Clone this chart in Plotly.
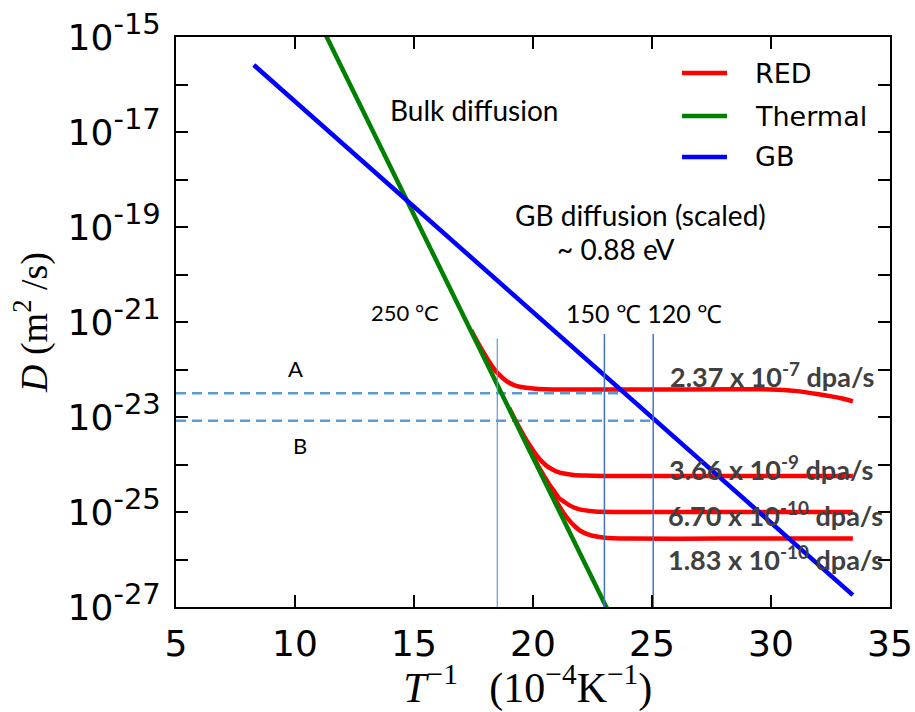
import plotly.graph_objects as go

# ---------------- data (x in 1e-4 K^-1, y as log10 D in m^2/s) ----------------
thermal_x = [11.0, 23.5]
thermal_logD = [-14.66, -27.43]

gb_x = [8.27, 33.44]
gb_logD = [-15.59, -26.75]

red1_x = [17.4, 17.6, 17.8, 18.0, 18.2, 18.4, 18.6, 18.8, 19.0, 19.2, 19.5, 20.0,
          20.5, 21.5, 25.0, 30.0, 31.0, 32.0, 33.0, 33.44]
red1_logD = [-21.17, -21.36, -21.54, -21.71, -21.87, -22.01, -22.12, -22.21, -22.28,
             -22.33, -22.37, -22.40, -22.415, -22.42, -22.42, -22.42, -22.45, -22.52,
             -22.61, -22.67]

red2_x = [19.0, 19.25, 19.5, 19.75, 20.0, 20.2, 20.4, 20.6, 20.8, 21.0, 21.3, 21.7,
          22.2, 23.0, 28.0, 33.44]
red2_logD = [-22.81, -23.06, -23.29, -23.51, -23.70, -23.84, -23.95, -24.04, -24.10,
             -24.15, -24.19, -24.22, -24.234, -24.24, -24.24, -24.24]

red3_x = [19.5, 19.75, 20.0, 20.25, 20.5, 20.7, 20.9, 21.1, 21.3, 21.5, 21.75, 22.0,
          22.6, 23.5, 28.0, 33.44]
red3_logD = [-23.33, -23.58, -23.82, -24.06, -24.27, -24.43, -24.57, -24.71, -24.78,
             -24.85, -24.91, -24.95, -24.99, -25.0, -25.0, -25.0]

red4_x = [19.75, 20.0, 20.25, 20.5, 20.75, 21.0, 21.2, 21.4, 21.6, 21.8, 22.0, 22.25,
          22.5, 23.0, 24.0, 28.0, 33.44]
red4_logD = [-23.59, -23.84, -24.09, -24.34, -24.57, -24.79, -24.955, -25.10, -25.22,
             -25.32, -25.40, -25.46, -25.50, -25.54, -25.56, -25.56, -25.56]

dose_labels = ["2.37 x 10<sup>-7</sup> dpa/s", "3.66 x 10<sup>-9</sup> dpa/s",
               "6.70 x 10<sup>-10</sup> dpa/s", "1.83 x 10<sup>-10</sup> dpa/s"]
dose_label_x = [34.4, 34.35, 34.8, 34.8]
dose_label_logD = [-22.12, -24.08, -25.05, -25.97]

# reference lines
lineA_x = [5.0, 23.85]
lineA_logD = [-22.50, -22.50]
lineB_x = [5.0, 25.05]
lineB_logD = [-23.08, -23.08]
temp_line_x = [18.5, 23.0, 25.05]          # 250 C, 150 C, 120 C markers
temp_line_top = [-21.35, -21.25, -21.25]

y_tick_exp = list(range(-27, -14))
x_tick_vals = [5, 10, 15, 20, 25, 30, 35]

legend_names = ["RED", "Thermal", "GB"]
legend_colors = ["#ff0000", "#008000", "#0000ff"]

# ---------------- figure ----------------
fig = go.Figure()
LW = 4.5

for xs, ls in [(lineA_x, lineA_logD), (lineB_x, lineB_logD)]:
    fig.add_trace(go.Scatter(x=xs, y=[10 ** v for v in ls], mode="lines",
                             line=dict(color="#5b9bd5", width=2.5, dash="10px,6px"),
                             showlegend=False, hoverinfo="skip"))

for xs, ls in [(red1_x, red1_logD), (red2_x, red2_logD), (red3_x, red3_logD), (red4_x, red4_logD)]:
    fig.add_trace(go.Scatter(x=xs, y=[10 ** v for v in ls], mode="lines",
                             line=dict(color="#ff0000", width=LW, shape="spline", smoothing=0.6),
                             showlegend=False, hoverinfo="skip"))

fig.add_trace(go.Scatter(x=thermal_x, y=[10 ** v for v in thermal_logD], mode="lines",
                         line=dict(color="#008000", width=LW), showlegend=False))
fig.add_trace(go.Scatter(x=gb_x, y=[10 ** v for v in gb_logD], mode="lines",
                         line=dict(color="#0000ff", width=LW), showlegend=False))

temp_colors = ["#5b9bd5", "#4472c4", "#4472c4"]
temp_widths = [1.2, 1.5, 1.5]
for tx, top, c, w in zip(temp_line_x, temp_line_top, temp_colors, temp_widths):
    fig.add_trace(go.Scatter(x=[tx, tx], y=[1e-27, 10 ** top], mode="lines",
                             line=dict(color=c, width=w), showlegend=False, hoverinfo="skip"))

# pointer lines (log10 coordinates on log axis)
pointers = [((16.43, -16.96), (14.06, -17.73)),
            ((20.60, -19.12), (18.12, -19.94)),
            ((16.15, -21.04), (18.55, -21.40))]
for (x0, y0), (x1, y1) in pointers:
    fig.add_shape(type="line", xref="x", yref="y", x0=x0, y0=y0, x1=x1, y1=y1,
                  line=dict(color="#5b9bd5", width=1))

LBL = "Lato"
ann = []
for t, x, y in zip(dose_labels, dose_label_x, dose_label_logD):
    ann.append(dict(text="<b>" + t + "</b>", x=x, y=y, xanchor="right", yanchor="middle",
                    font=dict(family=LBL, size=27, color="#404040")))
ann += [
    dict(text="150 ℃ 120 ℃", x=24.68, y=-20.81, xanchor="center", yanchor="middle",
         font=dict(family=LBL, size=25, color="black")),
    dict(text="250 °C", x=16.13, y=-20.81, xanchor="right", yanchor="middle",
         font=dict(family=LBL, size=22, color="black")),
    dict(text="A", x=10.04, y=-21.97, xanchor="center", yanchor="middle",
         font=dict(family=LBL, size=22, color="black")),
    dict(text="B", x=10.21, y=-23.61, xanchor="center", yanchor="middle",
         font=dict(family=LBL, size=22, color="black")),
    dict(text="Bulk diffusion", x=13.92, y=-16.54, xanchor="left", yanchor="middle",
         font=dict(family=LBL, size=28, color="black")),
    dict(text="GB diffusion (scaled)", x=19.16, y=-18.75, xanchor="left", yanchor="middle",
         font=dict(family=LBL, size=28, color="black")),
    dict(text="~ 0.88 eV", x=23.5, y=-19.46, xanchor="center", yanchor="middle",
         font=dict(family=LBL, size=28, color="black")),
]
for a in ann:
    a.update(xref="x", yref="y", showarrow=False)

# legend (drawn manually)
leg_y = [0.9368, 0.8614, 0.7895]
for name, c, ly in zip(legend_names, legend_colors, leg_y):
    fig.add_shape(type="line", xref="paper", yref="paper", x0=0.7087, x1=0.7717,
                  y0=ly, y1=ly, line=dict(color=c, width=4.5))
    ann.append(dict(text=name, xref="paper", yref="paper", x=0.8081, y=ly,
                    xanchor="left", yanchor="middle", showarrow=False,
                    font=dict(family="DejaVu Sans", size=27, color="black")))

fig.update_layout(annotations=ann)

y_tick_text = [("10<sup><span style='font-size:29px'>%d</span></sup>" % e) if e % 2 else ""
               for e in y_tick_exp]

axis_common = dict(showline=True, linecolor="black", linewidth=2, mirror="allticks",
                   ticks="inside", ticklen=12, tickwidth=1.5, tickcolor="black",
                   showgrid=False, zeroline=False, automargin=False,
                   tickfont=dict(family="DejaVu Sans", size=36, color="black"))

fig.update_xaxes(range=[5, 35], tickvals=x_tick_vals,
                 ticktext=[str(v) for v in x_tick_vals], ticklabelstandoff=4,
                 title=dict(text="<i>T</i><sup>−1</sup>&nbsp;&nbsp;&nbsp;(10<sup>−4</sup>K<sup>−1</sup>)&nbsp;",
                            font=dict(family="Liberation Serif", size=42, color="black"),
                            standoff=4),
                 **axis_common)
fig.update_yaxes(type="log", range=[-27, -15], tickvals=[10.0 ** e for e in y_tick_exp],
                 ticktext=y_tick_text, ticklabelstandoff=6,
                 title=dict(text="<i>D</i>&nbsp;(m<sup>2</sup>&nbsp;/s)",
                            font=dict(family="Liberation Serif", size=38, color="black"),
                            standoff=8),
                 **axis_common)

fig.update_layout(width=915, height=712, margin=dict(l=176, r=25, t=37, b=105),
                  plot_bgcolor="white", paper_bgcolor="white", showlegend=False)

fig.write_html("out.html", config={"displayModeBar": False},
               post_script="document.body.style.margin='0px';"
                           "document.body.style.overflow='hidden';")
